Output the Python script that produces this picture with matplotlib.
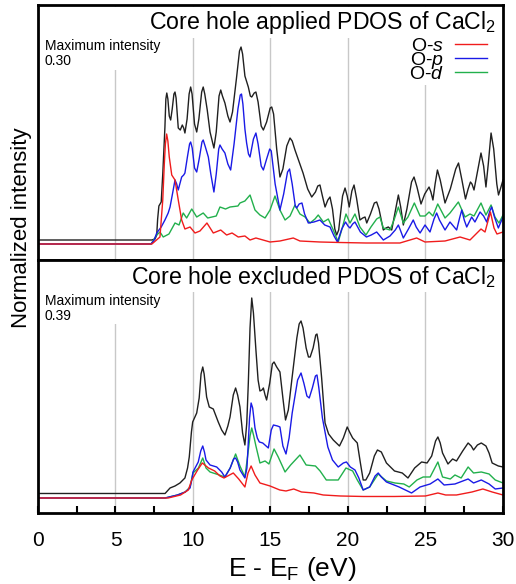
import numpy as np
import matplotlib.pyplot as plt
from matplotlib.lines import Line2D

plt.rcParams['font.family'] = ['Liberation Sans', 'DejaVu Sans']
plt.rcParams['mathtext.fontset'] = 'custom'
plt.rcParams['mathtext.rm'] = 'Liberation Sans'
plt.rcParams['mathtext.it'] = 'Liberation Sans:italic'

# --- core hole applied (top panel), arbitrary intensity units ---
E_top_tot = [0, 7.34, 7.55, 7.66, 7.72, 7.80, 7.95, 8.05, 8.19, 8.25, 8.31, 8.38, 8.47, 8.56, 8.66,
             8.77, 8.84, 8.91, 9.05, 9.18, 9.31, 9.40, 9.48, 9.62, 9.75, 9.85, 9.94, 10.10, 10.24,
             10.38, 10.56, 10.66, 10.76, 10.92, 11.10, 11.35, 11.50, 11.68, 11.79, 11.90, 12.06, 12.25,
             12.39, 12.55, 12.80, 13.00, 13.10, 13.20, 13.35, 13.57, 13.70, 13.79, 13.95, 14.06, 14.20,
             14.40, 14.54, 14.75, 14.98, 15.08, 15.20, 15.40, 15.61, 15.80, 16.05, 16.26, 16.40, 16.58,
             16.85, 17.10, 17.40, 17.66, 17.90, 18.05, 18.19, 18.35, 18.52, 18.70, 18.84, 19.00, 19.15,
             19.27, 19.40, 19.65, 19.81, 19.95, 20.08, 20.25, 20.39, 20.55, 20.77, 20.95, 21.10, 21.21,
             21.45, 21.70, 21.85, 22.00, 22.28, 22.45, 22.60, 22.82, 23.05, 23.25, 23.40, 23.57, 23.80,
             24.10, 24.26, 24.45, 24.71, 24.95, 25.23, 25.35, 25.48, 25.62, 25.77, 25.95, 26.26, 26.60,
             26.95, 27.13, 27.35, 27.58, 27.75, 27.90, 28.00, 28.13, 28.35, 28.58, 28.75, 28.90, 29.05,
             29.23, 29.40, 29.60, 29.71, 29.85, 30.0]
I_top_tot = [4, 4, 5, 9, 25, 38, 42, 70, 117, 145, 151, 145, 128, 124, 135,
             150, 152, 146, 116, 114, 119, 116, 111, 125, 150, 157, 150, 120, 112,
             125, 152, 157, 150, 134, 112, 96, 112, 148, 154, 148, 141, 128,
             122, 132, 165, 193, 197, 190, 168, 157, 148, 147, 151, 152, 142,
             118, 114, 122, 136, 137, 130, 95, 67, 75, 98, 106, 103, 94,
             82, 71, 55, 47, 52, 58, 59, 48, 37, 44, 47, 35, 15,
             9, 14, 48, 56, 48, 37, 53, 59, 46, 24, 26, 27, 21,
             30, 41, 42, 35, 14, 16, 17, 14, 33, 49, 37, 19, 35,
             62, 67, 57, 40, 50, 57, 52, 44, 60, 74, 64, 41, 55,
             75, 81, 64, 45, 55, 62, 60, 54, 72, 91, 78, 57, 80,
             111, 95, 60, 49, 56, 64]

E_top_p = [0, 7.29, 7.50, 7.66, 7.95, 8.19, 8.40, 8.52, 8.70, 8.84, 8.95, 9.05, 9.15, 9.27, 9.40,
           9.48, 9.65, 9.78, 9.85, 9.95, 10.10, 10.24, 10.40, 10.58, 10.66, 10.80, 10.99, 11.15, 11.35,
           11.50, 11.66, 11.74, 11.88, 12.06, 12.25, 12.43, 12.65, 12.90, 13.05, 13.13, 13.22, 13.35,
           13.46, 13.58, 13.68, 13.90, 14.06, 14.20, 14.40, 14.54, 14.75, 14.95, 15.05, 15.30, 15.61,
           15.85, 16.10, 16.23, 16.40, 16.60, 16.69, 16.85, 17.03, 17.20, 17.44, 17.80, 18.19, 18.50,
           18.84, 19.10, 19.32, 19.60, 19.84, 20.00, 20.13, 20.30, 20.45, 20.80, 21.19, 21.50, 21.85,
           22.28, 22.71, 23.05, 23.25, 23.40, 23.57, 23.90, 24.21, 24.40, 24.65, 24.97, 25.29, 25.55,
           25.72, 25.90, 26.26, 26.58, 27.01, 27.20, 27.34, 27.50, 27.66, 27.98, 28.19, 28.52, 28.75,
           28.95, 29.15, 29.27, 29.45, 29.70, 30.0]
I_top_p = [0, 0, 4, 11, 17, 24, 31, 37, 52, 64, 60, 54, 60, 67, 69,
           71, 88, 100, 102, 96, 76, 72, 85, 102, 104, 97, 87, 70, 52,
           70, 95, 99, 95, 91, 80, 74, 100, 135, 149, 150, 140, 115,
           101, 90, 87, 105, 111, 100, 78, 74, 85, 95, 93, 60, 34,
           50, 72, 75, 60, 38, 36, 40, 41, 30, 21, 22, 24, 19,
           17, 8, 2, 15, 22, 18, 16, 20, 22, 12, 7, 9, 12,
           4, 8, 14, 19, 13, 6, 15, 24, 17, 11, 19, 12, 25,
           31, 24, 14, 22, 14, 26, 34, 24, 17, 27, 22, 32, 28,
           22, 33, 37, 27, 16, 27]

E_top_s = [0, 7.35, 7.87, 8.05, 8.15, 8.22, 8.30, 8.38, 8.47, 8.63, 8.84, 9.05, 9.27, 9.48, 9.81,
           10.13, 10.45, 10.90, 11.31, 11.79, 12.17, 12.52, 12.92, 13.35, 13.68, 14.06, 14.52, 14.97,
           15.61, 16.47, 16.90, 18.19, 19.48, 21.16, 23.35, 24.43, 24.97, 26.26, 27.23, 27.87, 28.58,
           28.84, 29.19, 29.42, 29.61, 30.0]
I_top_s = [0, 0, 7, 44, 80, 100, 110, 103, 87, 69, 64, 44, 24, 15, 17,
           11, 13, 21, 11, 14, 9, 11, 7, 8, 4, 6, 4, 2,
           3, 6, 3, 2, 1.5, 1, 1, 6, 2, 3, 7, 4, 15,
           12, 32, 16, 10, 12]

E_top_d = [0, 7.30, 7.66, 7.87, 8.08, 8.45, 8.84, 9.10, 9.37, 9.59, 9.92, 10.24, 10.66, 10.95, 11.50,
           11.74, 12.10, 12.39, 12.90, 13.03, 13.35, 13.68, 14.00, 14.32, 14.54, 14.65, 14.97, 15.29,
           15.61, 15.94, 16.26, 16.58, 16.90, 17.23, 17.55, 17.87, 18.08, 18.41, 18.73, 19.05, 19.37,
           19.61, 19.87, 20.13, 20.45, 20.77, 21.16, 21.48, 21.85, 22.06, 22.28, 22.71, 22.97, 23.25,
           23.57, 23.87, 24.28, 24.65, 24.97, 25.23, 25.48, 25.79, 26.26, 26.58, 27.12, 27.55, 27.87,
           28.13, 28.58, 28.90, 29.23, 29.48, 29.74, 30.0]
I_top_d = [0, 0, 9, 12, 7, 10, 21, 19, 31, 26, 35, 27, 31, 26, 28, 37, 35, 37, 38, 41, 43, 49, 34, 29,
           27, 26, 34, 48, 34, 24, 28, 39, 30, 27, 21, 25, 29, 22, 25, 14, 2, 15, 30, 21, 30, 17, 9,
           17, 25, 27, 16, 14, 24, 37, 21, 27, 41, 28, 28, 32, 28, 40, 26, 31, 42, 27, 30, 28, 41, 29,
           39, 27, 21, 29]

# --- core hole excluded (bottom panel) ---
E_bot_tot = [0, 8.20, 8.52, 8.84, 9.16, 9.48, 9.65, 9.76, 9.90, 9.98, 10.24, 10.40, 10.52, 10.63,
             10.72, 10.88, 11.05, 11.31, 11.63, 11.85, 12.06, 12.25, 12.39, 12.60, 12.75, 12.88, 13.03,
             13.20, 13.35, 13.47, 13.57, 13.68, 13.79, 13.90, 14.06, 14.20, 14.32, 14.45, 14.54, 14.65,
             14.75, 14.95, 15.12, 15.23, 15.40, 15.61, 15.80, 15.97, 16.15, 16.39, 16.70, 16.85, 16.97,
             17.10, 17.30, 17.45, 17.56, 17.75, 17.92, 18.00, 18.10, 18.30, 18.52, 18.75, 19.05, 19.45,
             19.70, 19.95, 20.10, 20.30, 20.60, 20.80, 20.98, 21.15, 21.40, 21.70, 21.90, 22.15, 22.48,
             23.00, 23.50, 23.87, 24.30, 24.75, 25.10, 25.40, 25.65, 25.80, 25.95, 26.10, 26.45, 26.75,
             27.00, 27.40, 27.75, 27.95, 28.10, 28.35, 28.60, 28.90, 29.10, 29.30, 29.70, 30.0]
I_bot_tot = [4.5, 4.5, 10, 12, 15, 20, 30, 41, 66, 76, 85, 100, 124, 131,
             124, 101, 91, 89, 76, 68, 63, 72, 81, 103, 110, 103, 91,
             65, 53, 75, 115, 170, 200, 185, 148, 118, 107, 108, 110, 103,
             98, 115, 134, 136, 131, 126, 100, 78, 88, 120, 160, 174, 177,
             170, 150, 141, 141, 150, 163, 164, 155, 120, 75, 64, 58, 52,
             60, 71, 66, 60, 55, 35, 18, 18, 25, 42, 48, 46, 35,
             27, 25, 20, 30, 36, 35, 42, 57, 61, 55, 45, 34, 39,
             37, 47, 55, 52, 48, 53, 55, 52, 45, 35, 32, 31]

E_bot_p = [0, 8.20, 9.00, 9.50, 9.81, 9.92, 10.00, 10.34, 10.50, 10.63, 10.74, 10.84, 11.10, 11.53,
           11.85, 12.06, 12.40, 12.62, 12.75, 12.88, 13.03, 13.35, 13.48, 13.55, 13.65, 13.75, 13.85,
           14.00, 14.15, 14.28, 14.50, 14.86, 15.05, 15.19, 15.45, 15.61, 15.80, 16.00, 16.20, 16.40,
           16.75, 16.97, 17.15, 17.35, 17.50, 17.70, 17.90, 18.00, 18.12, 18.35, 18.70, 19.00, 19.37,
           19.70, 19.90, 20.15, 20.45, 20.70, 20.98, 21.40, 21.75, 21.95, 22.15, 22.48, 23.30, 24.10,
           24.65, 25.30, 25.80, 26.20, 26.90, 27.75, 28.10, 28.60, 29.10, 29.50, 30.0]
I_bot_p = [0, 0, 3, 6, 10, 18, 26, 36, 47, 52, 46, 38, 33, 31,
           26, 21, 30, 39, 40, 36, 28, 20, 30, 50, 80, 95, 90,
           70, 60, 56, 55, 50, 68, 73, 72, 71, 52, 44, 60, 85,
           118, 125, 115, 102, 100, 110, 122, 123, 110, 80, 51, 38, 31,
           35, 36, 31, 28, 20, 8, 11, 22, 25, 21, 16, 11, 5,
           11, 14, 19, 13, 14, 19, 15, 18, 14, 9, 10]

E_bot_d = [0, 8.20, 9.00, 9.50, 9.81, 10.00, 10.35, 10.63, 10.84, 11.10, 11.50, 12.06, 12.40, 12.75,
           13.03, 13.35, 13.55, 13.68, 13.79, 13.92, 14.06, 14.32, 14.65, 14.90, 15.23, 15.50, 15.94,
           16.30, 16.90, 17.30, 17.90, 18.20, 18.60, 19.37, 19.87, 20.30, 20.60, 20.98, 21.40, 21.95,
           22.48, 23.03, 23.60, 23.95, 24.45, 24.85, 25.30, 25.80, 26.10, 26.60, 26.90, 27.30, 27.75,
           28.10, 28.60, 29.10, 29.50, 30.0]
I_bot_d = [0, 0, 3, 6, 11, 25, 30, 40, 30, 26, 24, 21, 30, 44,
           32, 21, 45, 62, 70, 62, 52, 35, 37, 34, 49, 41, 26,
           33, 43, 33, 32, 27, 18, 18, 30, 27, 18, 8, 11, 24,
           17, 15, 14, 11, 18, 21, 21, 36, 21, 19, 23, 20, 31,
           25, 26, 24, 18, 15]

E_bot_s = [0, 8.40, 9.20, 9.70, 9.92, 10.30, 10.60, 11.00, 11.40, 11.74, 12.00, 12.60, 12.95, 13.35,
           13.55, 13.75, 14.00, 14.32, 14.97, 15.60, 16.00, 16.50, 17.00, 17.80, 18.40, 19.50, 21.00,
           23.00, 25.00, 25.80, 26.30, 27.00, 28.00, 28.70, 29.30, 30.0]
I_bot_s = [0, 0, 3, 8, 18, 28, 35, 30, 27, 22, 20, 25, 19, 11, 25, 32, 23, 15, 12, 8, 7, 9, 6, 5, 3, 2,
           1.5, 1.5, 2, 5, 3, 3, 6, 9, 6, 3]

titles = ['Core hole applied PDOS of CaCl$_2$', 'Core hole excluded PDOS of CaCl$_2$']
max_int = ['0.30', '0.39']
labels = ['O-$s$', 'O-$p$', 'O-$d$']

c_s, c_p, c_d, c_tot = '#f01c1c', '#1a1ae6', '#22b04c', '#202020'

fig = plt.figure(figsize=(5.16, 5.84), dpi=100)
ax1 = fig.add_axes([0.0736, 0.5548, 0.9012, 0.4366])
ax2 = fig.add_axes([0.0736, 0.1216, 0.9012, 0.4332], sharex=ax1)

lw = 1.0
ax1.plot(E_top_tot, I_top_tot, color=c_tot, lw=lw)
ax1.plot(E_top_d, I_top_d, color=c_d, lw=lw)
ax1.plot(E_top_p, I_top_p, color=c_p, lw=lw)
ax1.plot(E_top_s, I_top_s, color=c_s, lw=lw)

ax2.plot(E_bot_tot, I_bot_tot, color=c_tot, lw=lw)
ax2.plot(E_bot_d, I_bot_d, color=c_d, lw=lw)
ax2.plot(E_bot_p, I_bot_p, color=c_p, lw=lw)
ax2.plot(E_bot_s, I_bot_s, color=c_s, lw=lw)

ax1.set_ylim(-16, 239)
ax2.set_ylim(-15, 238)
ax1.set_xlim(0, 30)

for ax, t, m in zip([ax1, ax2], titles, max_int):
    ax.set_yticks([])
    ax.grid(axis='x', color='#c8c8c8', lw=1.0)
    ax.set_axisbelow(True)
    for sp in ax.spines.values():
        sp.set_linewidth(2.0)
    # white boxes hide the grid lines behind the annotations, as in the original
    ax.text(0.015, 0.985, '\n\nMaximum intensity\n' + m, transform=ax.transAxes, ha='left',
            va='top', fontsize=10, linespacing=1.1, zorder=4,
            bbox=dict(facecolor='white', edgecolor='none', pad=1))
    ax.text(0.985, 0.985, t, transform=ax.transAxes, ha='right', va='top', fontsize=16.7,
            zorder=6, bbox=dict(facecolor='white', edgecolor='none', pad=1.5))

ax1.tick_params(axis='x', bottom=False, labelbottom=False)
ax2.set_xticks(np.arange(0, 31, 5))
ax2.set_xticks(np.arange(2.5, 30, 5), minor=True)
ax2.tick_params(axis='x', which='both', direction='in', length=5, width=1.5, labelsize=15, pad=13)

handles = [Line2D([], [], color=c, lw=lw) for c in (c_s, c_p, c_d)]
leg = ax1.legend(handles, labels, loc='upper right', bbox_to_anchor=(0.99, 0.918),
                 fontsize=14, markerfirst=False, labelspacing=-0.28, handlelength=1.65,
                 handletextpad=0.55, borderpad=0.1, frameon=True, framealpha=1, edgecolor='none',
                 fancybox=False)
leg.set_zorder(7)

fig.text(0.041, 0.61, 'Normalized intensity', rotation=90, ha='center', va='center', fontsize=16)
fig.text(0.567, 0.026, 'E - E$_\\mathrm{F}$ (eV)', ha='center', va='center', fontsize=19)

fig.savefig('out.png', dpi=100)
